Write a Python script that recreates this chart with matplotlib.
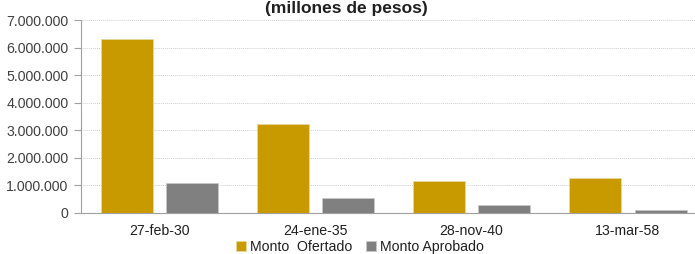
import matplotlib
matplotlib.use("Agg")
import matplotlib.pyplot as plt
import numpy as np
from matplotlib.ticker import FuncFormatter

plt.rcParams['font.family'] = ['Liberation Sans', 'DejaVu Sans']

fechas = ['27-feb-30', '24-ene-35', '28-nov-40', '13-mar-58']
ofertado = [6300000, 3220000, 1170000, 1270000]
aprobado = [1080000, 530000, 280000, 110000]

gold = '#C89A00'
gris = '#808080'

fig = plt.figure(figsize=(6.95, 2.54), dpi=100)
# plot area: x 81..695 px, y 20..213 px
ax = fig.add_axes([81/695, (254-213)/254, (695-81)/695, 193/254])

x = np.arange(len(fechas))
w = 0.333
ax.bar(x - 0.208, ofertado, w, color=gold, edgecolor='#E8D9A0', linewidth=0.5,
       label='Monto  Ofertado', zorder=3)
ax.bar(x + 0.21, aprobado, w, color=gris, edgecolor='#C8C8C8', linewidth=0.5,
       label='Monto Aprobado', zorder=3)

ax.set_xlim(-0.5, 3.43)
ax.set_ylim(0, 7000000)
ax.set_yticks(np.arange(0, 7000001, 1000000))
ax.yaxis.set_major_formatter(FuncFormatter(lambda v, p: '0' if v == 0 else f'{int(v):,}'.replace(',', '.')))
ax.set_xticks(x)
ax.set_xticklabels(fechas)

ax.grid(axis='y', color='#D0D0D0', linestyle=(0, (1, 1)), linewidth=0.7, zorder=0)
for s in ['top', 'right']:
    ax.spines[s].set_visible(False)
ax.spines['left'].set_color('#A0A0A0')
ax.spines['bottom'].set_color('#A0A0A0')
ax.tick_params(axis='y', length=5, color='#A0A0A0', labelsize=10.2, labelcolor='#404040', pad=4)
ax.tick_params(axis='x', length=0, labelsize=10.2, labelcolor='#202020', pad=8)

fig.text(346/695, 1 - 13/254, '(millones de pesos)', ha='center', va='baseline',
         fontsize=12.5, fontweight='bold', color='#202020')

fig.legend(loc='center', bbox_to_anchor=(360/695, 1 - 247/254), ncol=2, frameon=False,
           fontsize=10.2, handlelength=0.7, handleheight=0.7, handletextpad=0.3,
           columnspacing=1.0, labelcolor='#202020')

fig.savefig('out.png', dpi=100)
